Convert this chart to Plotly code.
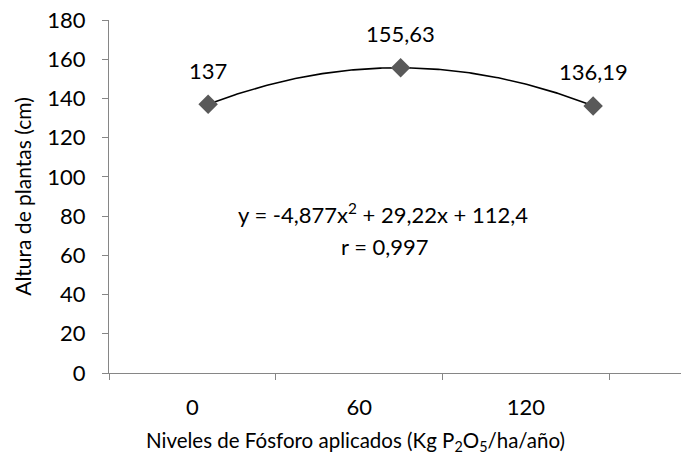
import numpy as np
import plotly.graph_objects as go

categories = ["0", "60", "120"]
x_levels = [0, 60, 120]
altura = [137, 155.63, 136.19]
labels = ["137", "155,63", "136,19"]
y_ticks = [0, 20, 40, 60, 80, 100, 120, 140, 160, 180]

FONT = "Lato"
fs = 22

coef = np.polyfit(x_levels, altura, 2)
xc = np.linspace(0, 120, 200)
yc = np.polyval(coef, xc)

fig = go.Figure()
fig.add_trace(go.Scatter(x=categories, y=[None]*3, xaxis="x", yaxis="y", showlegend=False, hoverinfo="skip"))
fig.add_trace(go.Scatter(x=xc, y=yc, mode="lines", line=dict(color="black", width=1.6),
                         xaxis="x2", yaxis="y", showlegend=False))
fig.add_trace(go.Scatter(x=x_levels, y=altura, mode="markers",
                         marker=dict(symbol="diamond", size=15, color="#595959"),
                         xaxis="x2", yaxis="y", showlegend=False))

annos = [dict(text=t, x=xv, y=yv, xref="x2", yref="y", showarrow=False, yshift=34,
              font=dict(family=FONT, size=fs, color="black"))
         for t, xv, yv in zip(labels, x_levels, altura)]
annos.append(dict(text="y = -4,877x<sup>2</sup> + 29,22x + 112,4", xref="paper", yref="paper",
                  x=(383-109)/572, y=(373-214)/353, showarrow=False, xanchor="center", yanchor="middle",
                  font=dict(family=FONT, size=fs, color="black")))
annos.append(dict(text="r = 0,997", xref="paper", yref="paper",
                  x=(385-109)/572, y=(373-246)/353, showarrow=False, xanchor="center", yanchor="middle",
                  font=dict(family=FONT, size=fs, color="black")))
annos.append(dict(text="Niveles de Fósforo aplicados (Kg P<sub>2</sub>O<sub>5</sub>/ha/año)",
                  xref="paper", yref="paper", x=(355-109)/572, y=(373-441)/353, showarrow=False,
                  xanchor="center", yanchor="middle",
                  font=dict(family=FONT, size=20.5, color="black")))

fig.update_layout(
    width=681, height=462,
    margin=dict(l=109, r=0, t=20, b=89),
    plot_bgcolor="white", paper_bgcolor="white",
    font=dict(family=FONT, size=fs, color="black"),
    xaxis=dict(type="category", range=[-0.5, 2.93], tickson="boundaries",
               ticks="outside", ticklen=6, tickcolor="#868686", ticklabelstandoff=14,
               showline=True, linecolor="#868686", linewidth=1.3, showgrid=False,
               tickfont=dict(family=FONT, size=fs)),
    xaxis2=dict(overlaying="x", range=[-30.9, 147.4], visible=False),
    yaxis=dict(range=[0, 180], tickvals=y_ticks, ticks="outside", ticklen=6, tickcolor="#868686",
               ticklabelstandoff=12,
               showline=True, linecolor="#868686", linewidth=1.3, showgrid=False, zeroline=False,
               title=dict(text="Altura de plantas (cm)", font=dict(family=FONT, size=21), standoff=9),
               tickfont=dict(family=FONT, size=fs)),
    annotations=annos,
)

fig.write_html("out.html")
